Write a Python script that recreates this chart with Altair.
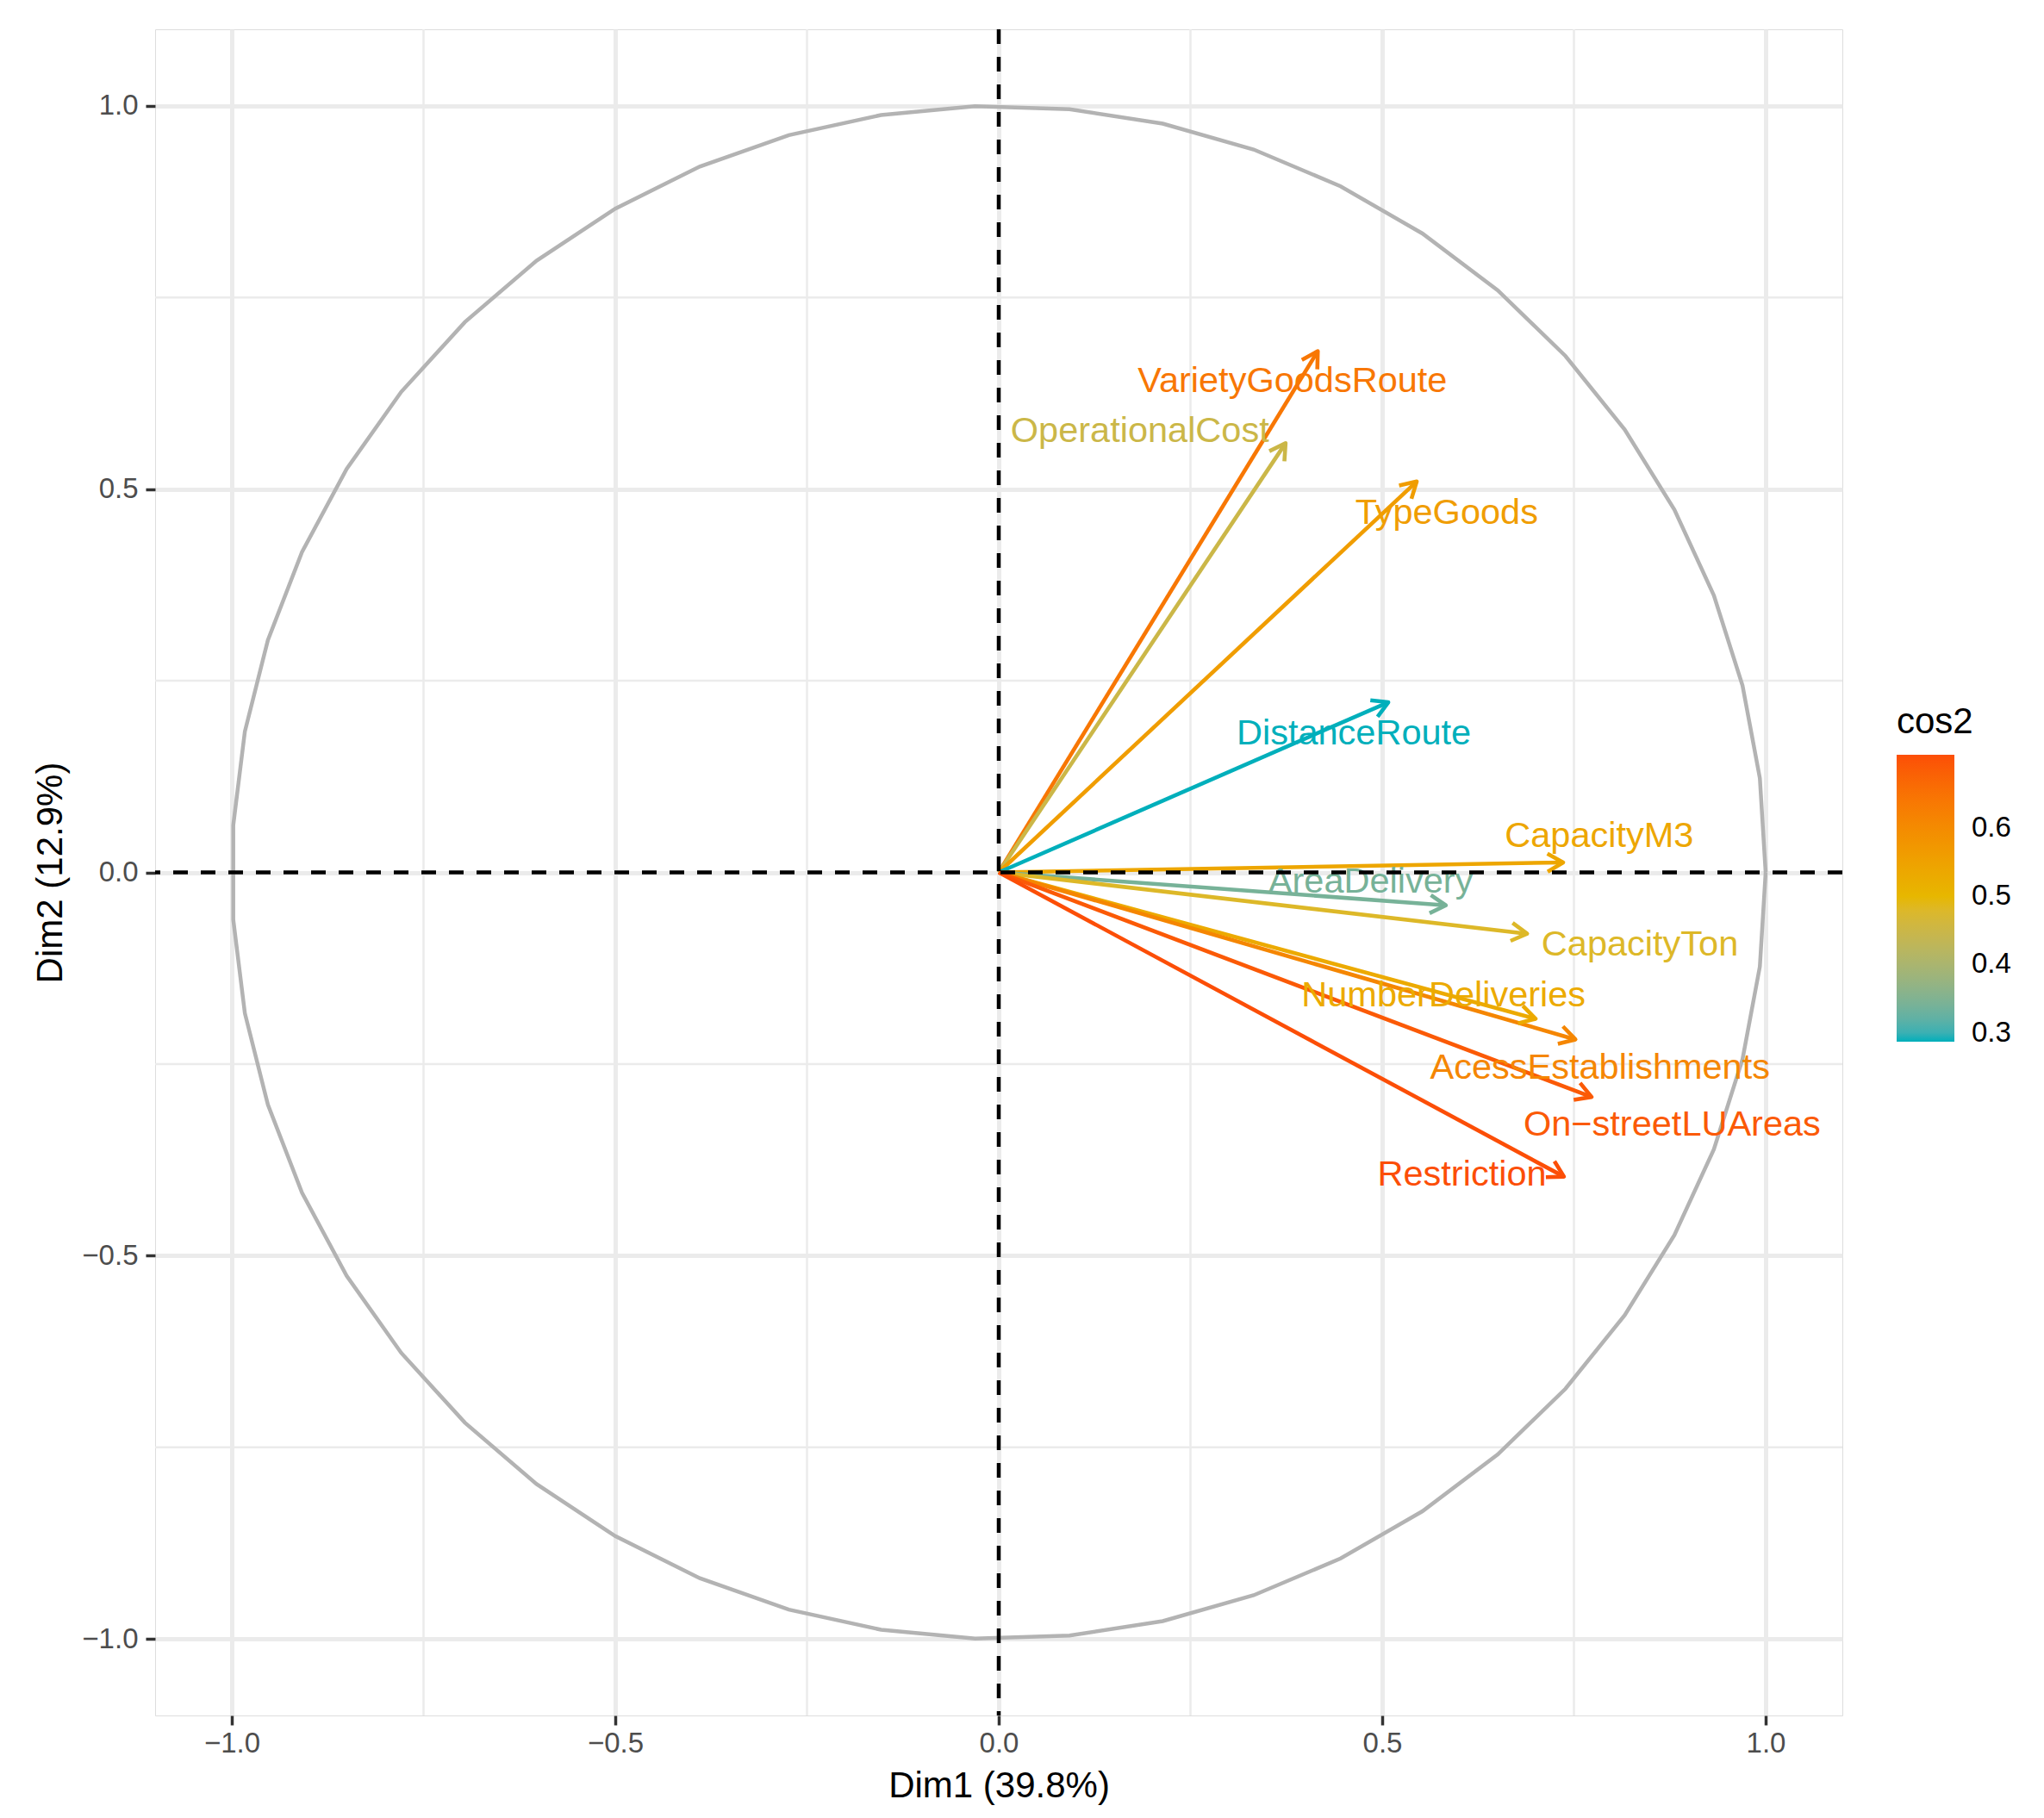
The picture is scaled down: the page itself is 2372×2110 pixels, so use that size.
import altair as alt
import pandas as pd

# ---- data ----
names = ["VarietyGoodsRoute", "OperationalCost", "TypeGoods", "DistanceRoute",
         "CapacityM3", "AreaDelivery", "CapacityTon", "NumberDeliveries",
         "AcessEstablishments", "On\u2212streetLUAreas", "Restriction"]
dim1 = [0.416, 0.374, 0.545, 0.508, 0.736, 0.583, 0.689, 0.700, 0.752, 0.773, 0.737]
dim2 = [0.680, 0.560, 0.510, 0.222, 0.013, -0.043, -0.080, -0.191, -0.218, -0.293, -0.397]
cos2 = [0.64, 0.45, 0.56, 0.287, 0.54, 0.34, 0.48, 0.53, 0.61, 0.69, 0.707]
label_x = [0.383, 0.184, 0.584, 0.463, 0.783, 0.485, 0.836, 0.580, 0.784, 0.878, 0.604]
label_y = [0.627, 0.562, 0.455, 0.167, 0.033, -0.026, -0.108, -0.175, -0.269, -0.343, -0.409]

major_ticks = [-1.0, -0.5, 0.0, 0.5, 1.0]
minor_grid = [-0.75, -0.25, 0.25, 0.75]
zero_line = [0.0]
legend_ticks = [0.3, 0.4, 0.5, 0.6]
circle_segments = 51

df = pd.DataFrame({"name": names, "x": dim1, "y": dim2, "cos2": cos2,
                   "lx": label_x, "ly": label_y})
minor_df = pd.DataFrame({"v": minor_grid})
zero_df = pd.DataFrame({"v": zero_line})

FONT = "Liberation Sans"
dom = [-1.1, 1.1]

axis_x = alt.Axis(values=major_ticks, format=".1f", title="Dim1 (39.8%)",
                  labelFontSize=33, labelColor="#4D4D4D", labelFont=FONT,
                  tickColor="#333333", tickSize=11, tickWidth=3.5,
                  domain=False, grid=True, gridColor="#EBEBEB", gridWidth=5,
                  labelPadding=5, titleFontSize=42, titleFont=FONT,
                  titleFontWeight="normal", titleColor="black", titlePadding=12)
axis_y = alt.Axis(values=major_ticks, format=".1f", title="Dim2 (12.9%)",
                  labelFontSize=33, labelColor="#4D4D4D", labelFont=FONT,
                  tickColor="#333333", tickSize=11, tickWidth=3.5,
                  domain=False, grid=True, gridColor="#EBEBEB", gridWidth=5,
                  labelPadding=9, titleFontSize=42, titleFont=FONT,
                  titleFontWeight="normal", titleColor="black", titlePadding=14)


def X(field):
    return alt.X(field, type="quantitative", scale=alt.Scale(domain=dom, nice=False, zero=False), axis=axis_x)


def Y(field):
    return alt.Y(field, type="quantitative", scale=alt.Scale(domain=dom, nice=False, zero=False), axis=axis_y)


color_scale = alt.Scale(range=["#00AFBB", "#E7B800", "#FC4E07"], interpolate="lab",
                        nice=False, zero=False)
color_legend = alt.Legend(title="cos2", orient="none",
                          legendX=2021, legendY=784,
                          direction="vertical", gradientLength=333, gradientThickness=67,
                          values=legend_ticks, format=".1f", labelFontSize=33,
                          labelColor="black", labelFont=FONT, titleFont=FONT,
                          titleFontSize=42, titleFontWeight="normal", titleColor="black",
                          labelOffset=20, titlePadding=16)
COLOR_LEG = alt.Color("cos2:Q", scale=color_scale, legend=color_legend)
COLOR = alt.Color("cos2:Q", scale=color_scale, legend=None)

base = alt.Chart(df)

# invisible layer that carries the colour legend
legend_layer = base.mark_rect(fillOpacity=0, strokeOpacity=0).encode(
    x=X("x"), y=Y("y"), fill=COLOR_LEG)

minor_v = alt.Chart(minor_df).mark_rule(color="#EBEBEB", strokeWidth=2.5).encode(x=X("v"))
minor_h = alt.Chart(minor_df).mark_rule(color="#EBEBEB", strokeWidth=2.5).encode(y=Y("v"))

circle = (alt.Chart(alt.sequence(0, circle_segments + 1, 1, as_="k"))
          .transform_calculate(cx=f"cos(datum.k*2*PI/{circle_segments})",
                               cy=f"sin(datum.k*2*PI/{circle_segments})")
          .mark_line(color="#B3B3B3", strokeWidth=4.5)
          .encode(x=X("cx"), y=Y("cy"), order=alt.Order("k:Q")))

shafts = (base.transform_calculate(zero="0")
          .mark_rule(strokeWidth=4.6, strokeCap="butt")
          .encode(x=X("zero"), x2="x", y=Y("zero"), y2="y", color=COLOR))

heads = (base.transform_calculate(ang="(360 - atan2(datum.y, datum.x)*180/PI) % 360")
         .mark_point(shape="M-1,-0.577L0,0L-1,0.577", filled=False, size=1325,
                     strokeWidth=4.6, strokeJoin="round", opacity=1)
         .encode(x=X("x"), y=Y("y"), angle=alt.Angle("ang:Q", scale=None),
                 color=COLOR))

labels = (base.mark_text(font=FONT, fontSize=41.5, align="center", baseline="alphabetic")
          .encode(x=X("lx"), y=Y("ly"), text="name:N", color=COLOR))

vline = alt.Chart(zero_df).mark_rule(color="black", strokeWidth=4.5,
                                     strokeDash=[17, 15]).encode(x=X("v"))
hline = alt.Chart(zero_df).mark_rule(color="black", strokeWidth=4.5,
                                     strokeDash=[17, 15]).encode(y=Y("v"))

chart = (alt.layer(legend_layer, minor_v, minor_h, circle, shafts, heads, labels, vline, hline)
         .properties(width=1958, height=1957,
                     autosize=alt.AutoSizeParams(type="none"),
                     padding={"left": 172, "top": 26, "right": 218, "bottom": 105})
         .configure_view(stroke=None)
         .configure(font=FONT, background="white"))

chart.save("out.html", embed_options={"renderer": "svg", "actions": False})
